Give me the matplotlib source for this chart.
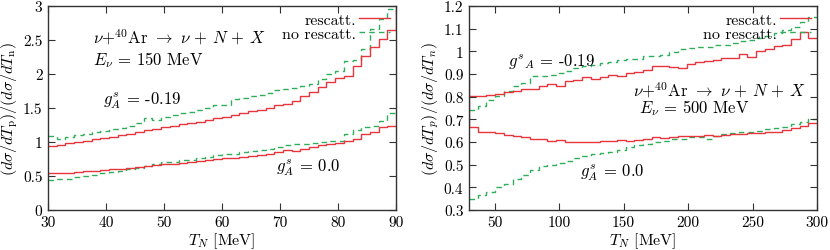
import numpy as np
import matplotlib
matplotlib.use("Agg")
import matplotlib.pyplot as plt

plt.rcParams['font.family'] = 'cmr10'
plt.rcParams['mathtext.fontset'] = 'cm'
plt.rcParams['axes.formatter.use_mathtext'] = True
plt.rcParams['axes.unicode_minus'] = False

RED = '#e8353c'
GREEN = '#2fae5a'

# ---------------- left panel: E_nu = 150 MeV, bins of 1.5 MeV from 30 to 90
left_edges = np.linspace(30, 90, 41)
left_resc_m019 = [0.94, 0.96, 0.98, 1.00, 1.02, 1.04, 1.06, 1.08, 1.10, 1.12,
                  1.14, 1.17, 1.19, 1.22, 1.24, 1.26, 1.28, 1.30, 1.32, 1.35,
                  1.37, 1.39, 1.42, 1.45, 1.47, 1.50, 1.55, 1.56, 1.61, 1.68,
                  1.73, 1.81, 1.88, 1.94, 1.97, 2.12, 2.26, 2.39, 2.51, 2.64]
left_noresc_m019 = [1.09, 1.05, 1.07, 1.10, 1.12, 1.14, 1.16, 1.19, 1.21, 1.24,
                    1.28, 1.35, 1.33, 1.37, 1.40, 1.42, 1.44, 1.47, 1.50, 1.54,
                    1.54, 1.63, 1.65, 1.67, 1.69, 1.72, 1.76, 1.78, 1.80, 1.82,
                    1.86, 1.93, 2.00, 2.05, 2.19, 2.20, 2.37, 2.66, 2.81, 2.96]
left_resc_0 = [0.54, 0.54, 0.55, 0.56, 0.57, 0.58, 0.59, 0.60, 0.61, 0.62,
               0.63, 0.64, 0.66, 0.67, 0.68, 0.69, 0.70, 0.72, 0.73, 0.75,
               0.76, 0.77, 0.78, 0.80, 0.81, 0.83, 0.86, 0.88, 0.87, 0.89,
               0.92, 0.95, 0.97, 0.99, 1.02, 1.04, 1.12, 1.14, 1.22, 1.24]
left_noresc_0 = [0.44, 0.45, 0.46, 0.48, 0.50, 0.52, 0.54, 0.56, 0.58, 0.60,
                 0.62, 0.65, 0.68, 0.70, 0.71, 0.73, 0.74, 0.76, 0.78, 0.81,
                 0.82, 0.82, 0.85, 0.87, 0.88, 0.90, 0.93, 0.95, 0.97, 0.97,
                 0.98, 1.00, 1.02, 1.02, 1.12, 1.17, 1.22, 1.24, 1.31, 1.42]
left_resc_m019_next = 2.95  # first bin past 90 MeV

# ---------------- right panel: E_nu = 500 MeV, bins of 6.75 MeV from 30 to 300
right_edges = np.linspace(30, 300, 41)
right_resc_m019 = [0.804, 0.804, 0.806, 0.812, 0.820, 0.823, 0.834, 0.835, 0.845, 0.858,
                   0.845, 0.870, 0.875, 0.885, 0.878, 0.885, 0.895, 0.893, 0.905, 0.910,
                   0.918, 0.936, 0.935, 0.930, 0.928, 0.945, 0.954, 0.958, 0.960, 0.969,
                   0.970, 0.988, 0.974, 1.003, 1.012, 1.022, 1.030, 1.054, 1.087, 1.060]
right_noresc_m019 = [0.742, 0.760, 0.785, 0.805, 0.825, 0.845, 0.862, 0.893, 0.890, 0.895,
                     0.905, 0.915, 0.925, 0.937, 0.940, 0.948, 0.954, 0.962, 0.966, 0.968,
                     0.978, 0.978, 0.985, 0.995, 1.010, 1.015, 1.020, 1.020, 1.027, 1.030,
                     1.037, 1.047, 1.048, 1.058, 1.069, 1.080, 1.092, 1.108, 1.128, 1.150]
right_resc_0 = [0.668, 0.645, 0.643, 0.640, 0.632, 0.628, 0.620, 0.612, 0.612, 0.605,
                0.607, 0.600, 0.598, 0.600, 0.601, 0.604, 0.606, 0.607, 0.606, 0.610,
                0.614, 0.620, 0.619, 0.622, 0.626, 0.625, 0.628, 0.630, 0.627, 0.632,
                0.634, 0.636, 0.638, 0.641, 0.643, 0.646, 0.652, 0.660, 0.672, 0.684]
right_noresc_0 = [0.348, 0.365, 0.380, 0.400, 0.415, 0.435, 0.455, 0.475, 0.495, 0.500,
                  0.508, 0.518, 0.530, 0.540, 0.547, 0.553, 0.558, 0.565, 0.578, 0.585,
                  0.592, 0.600, 0.606, 0.612, 0.615, 0.620, 0.624, 0.614, 0.628, 0.635,
                  0.640, 0.642, 0.645, 0.650, 0.656, 0.660, 0.665, 0.679, 0.688, 0.702]
right_resc_m019_prev = 0.878  # bin just below 30 MeV
right_resc_0_prev = 0.80


def StyleAxes(ax):
    for s in ax.spines.values():
        s.set_linewidth(1.0)
        s.set_color('#333333')
    ax.tick_params(direction='in', length=5, width=0.8, top=True, right=True,
                   labelsize=11, pad=4, color='#333333')
    ax.yaxis.set_major_formatter(matplotlib.ticker.FormatStrFormatter('%g'))
    ax.xaxis.set_major_formatter(matplotlib.ticker.FormatStrFormatter('%g'))


def AddLegend(ax):
    ax.plot([], [], color=RED, lw=1, label='rescatt.')
    ax.plot([], [], color=GREEN, lw=1, ls=(0, (4, 3)), label='no rescatt.')
    ax.legend(loc='upper right', frameon=False, markerfirst=False, fontsize=11.5,
              handlelength=1.9, handletextpad=0.2, labelspacing=0.0,
              borderaxespad=0.3, borderpad=0.1)


REACTION = r'$\nu$+$^{40}$Ar $\rightarrow$ $\nu\,+\,N\,+\,X$'

fig = plt.figure(figsize=(8.3, 2.51), dpi=100)
axL = fig.add_axes([48 / 830, 1 - 211 / 251, 348 / 830, 204 / 251])
axR = fig.add_axes([469 / 830, 1 - 211 / 251, 348 / 830, 204 / 251])

# left panel
w = left_edges[1] - left_edges[0]
edges_ext = np.append(left_edges, left_edges[-1] + w)
axL.stairs(left_noresc_m019, left_edges, color=GREEN, lw=1, ls=(0, (4, 3)), baseline=None)
axL.stairs(left_noresc_0, left_edges, color=GREEN, lw=1, ls=(0, (4, 3)), baseline=None)
axL.stairs(left_resc_m019 + [left_resc_m019_next], edges_ext, color=RED, lw=1, baseline=None)
axL.stairs(left_resc_0, left_edges, color=RED, lw=1, baseline=None)
axL.set_xlim(30, 90)
axL.set_ylim(0, 3)
axL.set_xticks(np.arange(30, 91, 10))
axL.set_yticks(np.arange(0, 3.01, 0.5))
StyleAxes(axL)
axL.set_xlabel(r'$T_N$ [MeV]', fontsize=11.5, labelpad=1)
axL.set_ylabel(r'$(d\sigma/dT_{\rm p})/(d\sigma/dT_{\rm n})$', fontsize=11.5, labelpad=2)
axL.text(37.8, 2.55, REACTION, fontsize=12, va='center')
axL.text(37.8, 2.22, r'$E_\nu$ = 150 MeV', fontsize=12, va='center')
axL.text(39.5, 1.62, r'$g_A^s$ = -0.19', fontsize=12, va='center')
axL.text(69.3, 0.63, r'$g_A^s$ = 0.0', fontsize=12, va='center')
AddLegend(axL)

# right panel
w = right_edges[1] - right_edges[0]
edges_pre = np.insert(right_edges, 0, right_edges[0] - w)
axR.stairs(right_noresc_m019, right_edges, color=GREEN, lw=1, ls=(0, (4, 3)), baseline=None)
axR.stairs(right_noresc_0, right_edges, color=GREEN, lw=1, ls=(0, (4, 3)), baseline=None)
axR.stairs([right_resc_m019_prev] + right_resc_m019, edges_pre, color=RED, lw=1, baseline=None)
axR.stairs([right_resc_0_prev] + right_resc_0, edges_pre, color=RED, lw=1, baseline=None)
axR.set_xlim(30, 300)
axR.set_ylim(0.3, 1.2)
axR.set_xticks(np.arange(50, 301, 50))
axR.set_yticks(np.arange(0.3, 1.201, 0.1))
StyleAxes(axR)
axR.set_xlabel(r'$T_N$ [MeV]', fontsize=11.5, labelpad=1)
axR.set_ylabel(r'$(d\sigma/dT_p)/(d\sigma/dT_n)$', fontsize=11.5, labelpad=2)
axR.text(157, 0.834, REACTION, fontsize=12, va='center')
axR.text(162, 0.754, r'$E_\nu$ = 500 MeV', fontsize=12, va='center')
axR.text(60, 0.959, r'$g^s{}_A$ = -0.19', fontsize=12, va='center')
axR.text(116, 0.467, r'$g_A^s$ = 0.0', fontsize=12, va='center')
AddLegend(axR)

fig.savefig('out.png', dpi=100)
